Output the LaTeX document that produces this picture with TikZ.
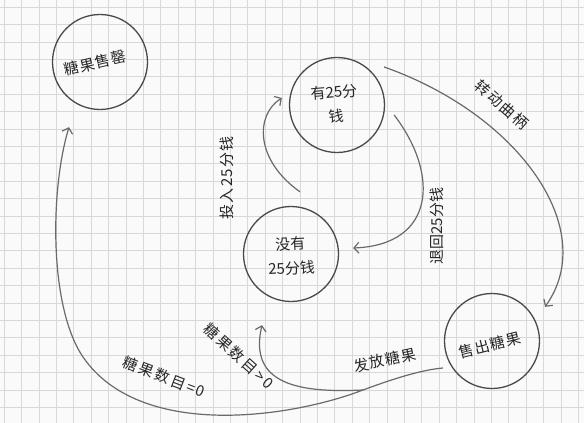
\documentclass[tikz,border=0pt]{standalone}
\usepackage{fontspec}
\newfontfamily\cjkfont{Noto Sans CJK SC}
\usetikzlibrary{arrows.meta}
\definecolor{paper}{HTML}{FAFAFA}
\definecolor{gridline}{HTML}{D8D8D8}
\definecolor{ink}{HTML}{4A4A4A}
\definecolor{pencil}{HTML}{6A6A6A}

\begin{document}
\begin{tikzpicture}[x=1pt, y=-1pt,
    state/.style={circle, draw=ink, line width=1.3pt, minimum size=95pt, inner sep=0pt},
    txt/.style={font=\cjkfont\fontsize{15}{24}\selectfont, text=black!85, inner sep=0pt, align=center},
    spaced/.style={txt, font=\cjkfont\fontsize{15}{24}\selectfont\addfontfeature{LetterSpace=#1}},
    trans/.style={draw=pencil, line width=1.2pt, -{Straight Barb[length=5pt, width=11pt]}},
    plain/.style={draw=pencil, line width=1.2pt}]
  \useasboundingbox (0,0) rectangle (584,423);
  % graph paper
  \fill[paper] (0,0) rectangle (584,423);
  \foreach \gx in {4,21.4,...,584} \draw[gridline, line width=0.5pt] (\gx,0) -- (\gx,423);
  \foreach \gy in {7,24.4,...,423} \draw[gridline, line width=0.5pt] (0,\gy) -- (584,\gy);

  % states
  \node[state] (soldout) at (100,62) {};
  \node[state] (hasq) at (337,105) {};
  \node[state] (noq) at (291,254) {};
  \node[state] (sold) at (492,341) {};
  \node[spaced=6, rotate=13] (soldoutT) at (95,63) {糖果售罄};
  \node[txt, rotate=5] (hasqT) at (335,104) {有25分\\钱};
  \node[txt, rotate=3] (noqT) at (291,256) {没有\\25分钱};
  \node[spaced=6, rotate=14] (soldT) at (490,345) {售出糖果};

  % transitions
  \draw[trans] ([shift={(9,-14)}]noq.north) .. controls (255,160) and (255,115) .. ([shift={(-7,-7)}]hasq.west);
  \draw[trans] ([shift={(9,10)}]hasq.east) .. controls (440,175) and (435,245) .. ([shift={(14,-6)}]noq.east);
  \draw[trans] ([shift={(13,-4)}]hasq.north east) .. controls (520,115) and (600,230) .. ([shift={(53,14)}]sold.north);
  \coordinate (fork) at (363,390);
  \draw[plain] ([shift={(-1,27)}]sold.west) .. controls (420,370) and (390,380) .. (fork);
  \draw[trans] (fork) .. controls (300,393) and (248,385) .. ([shift={(-29,23)}]noq.south);
  \draw[trans] (fork) .. controls (290,418) and (140,440) .. (83,357)
        .. controls (49,307) and (50,190) .. ([shift={(-31,17)}]soldout.south);

  % labels
  \node[spaced=8, rotate=90] (insertL) at (227,178) {投入25分钱};
  \node[txt, rotate=90] (ejectL) at (437,226) {退回25分钱};
  \node[spaced=12, rotate=-41] (turnL) at (502,105) {转动曲柄};
  \node[spaced=8, rotate=12] (dispL) at (385,360) {发放糖果};
  \node[spaced=14, rotate=-42] (moreL) at (239,356) {糖果数目\hspace{3pt}>0};
  \node[spaced=14, rotate=-21] (zeroL) at (164,377) {糖果数目\hspace{2pt}=0};
\end{tikzpicture}
\end{document}
